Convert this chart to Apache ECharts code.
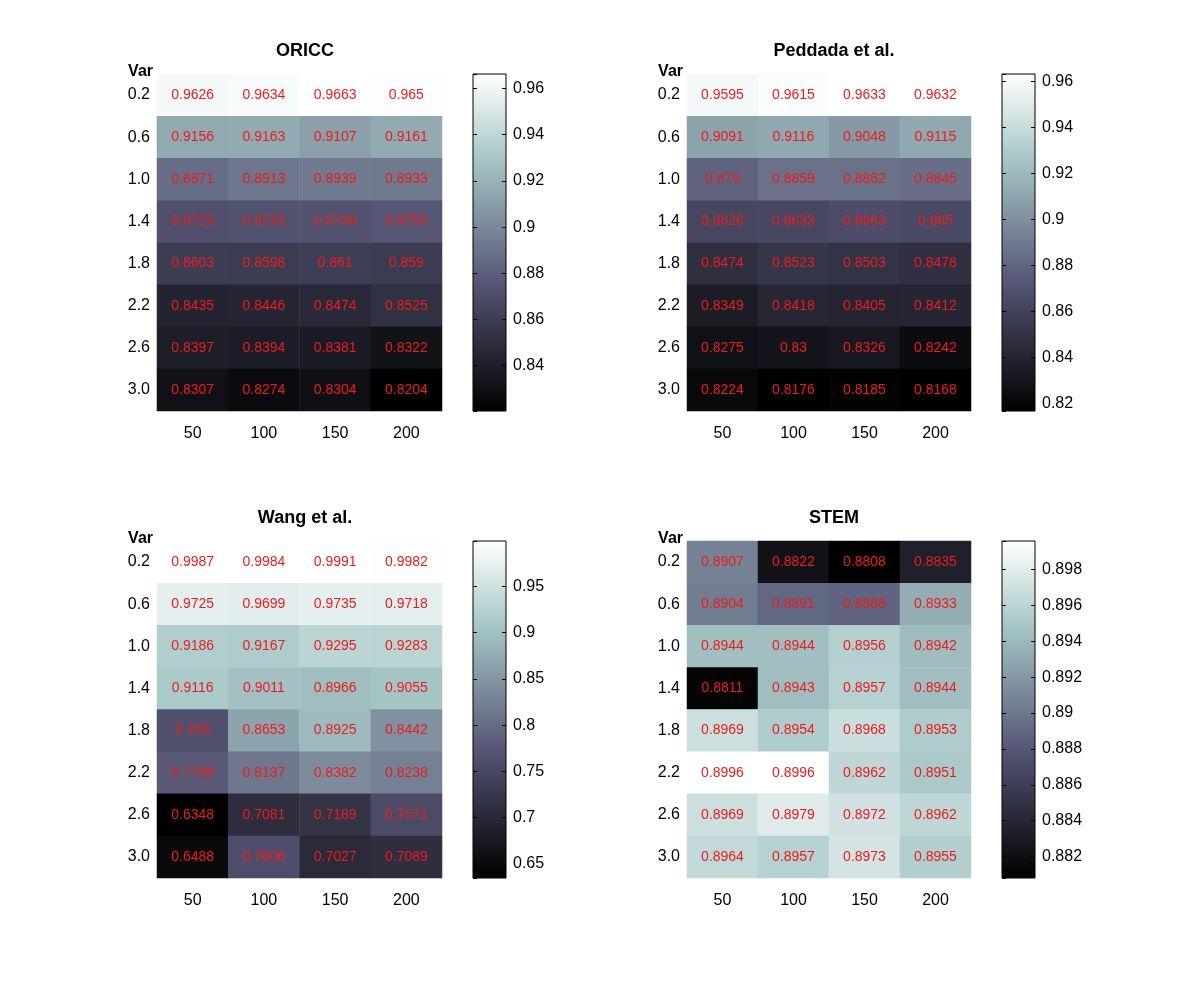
<!DOCTYPE html>
<html>
<head>
<meta charset="utf-8">
<script src="https://cdn.jsdelivr.net/npm/echarts@6/dist/echarts.min.js"></script>
<style>
html,body{margin:0;padding:0;background:#fff;}
#chart{width:1200px;height:988px;}
</style>
</head>
<body>
<div id="chart"></div>
<script>
// ---- data ----
const sampleSizes = ['50', '100', '150', '200'];
const variances = ['0.2', '0.6', '1.0', '1.4', '1.8', '2.2', '2.6', '3.0'];
const panelTitles = ['ORICC', 'Peddada et al.', 'Wang et al.', 'STEM'];

const oriccValues = [
  [0.9626, 0.9634, 0.9663, 0.965],
  [0.9156, 0.9163, 0.9107, 0.9161],
  [0.8871, 0.8913, 0.8939, 0.8933],
  [0.8723, 0.8733, 0.8738, 0.8755],
  [0.8603, 0.8598, 0.861, 0.859],
  [0.8435, 0.8446, 0.8474, 0.8525],
  [0.8397, 0.8394, 0.8381, 0.8322],
  [0.8307, 0.8274, 0.8304, 0.8204]
];
const peddadaValues = [
  [0.9595, 0.9615, 0.9633, 0.9632],
  [0.9091, 0.9116, 0.9048, 0.9115],
  [0.879, 0.8859, 0.8862, 0.8845],
  [0.8626, 0.8633, 0.8663, 0.865],
  [0.8474, 0.8523, 0.8503, 0.8478],
  [0.8349, 0.8418, 0.8405, 0.8412],
  [0.8275, 0.83, 0.8326, 0.8242],
  [0.8224, 0.8176, 0.8185, 0.8168]
];
const wangValues = [
  [0.9987, 0.9984, 0.9991, 0.9982],
  [0.9725, 0.9699, 0.9735, 0.9718],
  [0.9186, 0.9167, 0.9295, 0.9283],
  [0.9116, 0.9011, 0.8966, 0.9055],
  [0.766, 0.8653, 0.8925, 0.8442],
  [0.7788, 0.8137, 0.8382, 0.8238],
  [0.6348, 0.7081, 0.7189, 0.7571],
  [0.6488, 0.7608, 0.7027, 0.7089]
];
const stemValues = [
  [0.8907, 0.8822, 0.8808, 0.8835],
  [0.8904, 0.8891, 0.8888, 0.8933],
  [0.8944, 0.8944, 0.8956, 0.8942],
  [0.8811, 0.8943, 0.8957, 0.8944],
  [0.8969, 0.8954, 0.8968, 0.8953],
  [0.8996, 0.8996, 0.8962, 0.8951],
  [0.8969, 0.8979, 0.8972, 0.8962],
  [0.8964, 0.8957, 0.8973, 0.8955]
];
const colorbarSplits = [7, 7, 7, 8];

// ---- styling / layout ----
const FONT = '"Liberation Sans", Arial, Helvetica, sans-serif';
const boneColors = ['#000000', '#1c1c27', '#38384d', '#545474', '#707a8f', '#8ba1ab', '#a7c7c7', '#d3e3e3', '#ffffff'];
const panelValues = [oriccValues, peddadaValues, wangValues, stemValues];
const layouts = [
  {hx: 157, hw: 285, cx: 473, cw: 33, top: 74, tx: 300},
  {hx: 687, hw: 284, cx: 1002, cw: 33, top: 74, tx: 829},
  {hx: 157, hw: 285, cx: 473, cw: 33, top: 541, tx: 300},
  {hx: 687, hw: 284, cx: 1002, cw: 33, top: 541, tx: 829}
];
const H = 337;

const grids = [], xAxes = [], yAxes = [], series = [], visualMaps = [], titles = [];

layouts.forEach((L, i) => {
  grids[i] = {left: L.hx, top: L.top, width: L.hw, height: H};
  grids[4 + i] = {left: L.cx, top: L.top, width: L.cw, height: H};
});

panelValues.forEach((vals, i) => {
  const L = layouts[i];
  const flat = vals.flat();
  const vmin = Math.min(...flat), vmax = Math.max(...flat);
  const data = [];
  vals.forEach((row, yi) => row.forEach((v, xi) => data.push([xi, yi, v])));

  titles.push({
    text: panelTitles[i], left: L.tx, top: L.top - 37, textAlign: 'center',
    textStyle: {fontFamily: FONT, fontSize: 18, fontWeight: 'bold', color: '#000'}
  });

  xAxes[i] = {
    type: 'category', gridIndex: i, data: sampleSizes,
    axisLine: {show: false}, axisTick: {show: false}, splitLine: {show: false},
    axisLabel: {fontFamily: FONT, fontSize: 16, color: '#000', margin: 15}
  };
  yAxes[i] = {
    type: 'category', gridIndex: i, data: variances, inverse: true,
    name: 'Var', nameLocation: 'start', nameGap: -6,
    nameTextStyle: {fontFamily: FONT, fontSize: 16, fontWeight: 'bold', color: '#000', align: 'right', padding: [0, 4, 0, 0]},
    axisLine: {show: false}, axisTick: {show: false}, splitLine: {show: false},
    axisLabel: {fontFamily: FONT, fontSize: 16, color: '#000', margin: 7}
  };
  xAxes[4 + i] = {type: 'value', gridIndex: 4 + i, min: 1, max: 2, show: false};
  const cbAxis = (pos, labels) => ({
    type: 'value', gridIndex: 4 + i, position: pos, min: vmin, max: vmax,
    splitNumber: colorbarSplits[i], z: 10,
    axisLine: {show: false, onZero: false},
    axisTick: {show: true, inside: true, length: 4, lineStyle: {color: '#000', width: 1}},
    splitLine: {show: false},
    axisLabel: {show: labels, showMinLabel: false, showMaxLabel: false,
      fontFamily: FONT, fontSize: 16, color: '#000', margin: 7}
  });
  yAxes[4 + i] = cbAxis('right', true);
  yAxes[8 + i] = cbAxis('left', false);

  visualMaps.push({
    type: 'continuous', show: false, seriesIndex: i, dimension: 2,
    min: vmin, max: vmax, inRange: {color: boneColors}
  });

  series[i] = {
    type: 'heatmap', xAxisIndex: i, yAxisIndex: i, data: data,
    label: {show: true, formatter: p => String(p.value[2]), color: '#ec1c1c',
      fontFamily: FONT, fontSize: 14},
    emphasis: {disabled: true}, silent: true
  };

  const stops = boneColors.slice().reverse().map((c, k) => ({offset: k / (boneColors.length - 1), color: c}));
  series[4 + i] = {
    type: 'custom', xAxisIndex: 4 + i, yAxisIndex: 4 + i, data: [[1]], silent: true, z: 1,
    renderItem: (params, api) => {
      const p0 = api.coord([1, vmax]);
      const p1 = api.coord([2, vmin]);
      return {
        type: 'rect',
        shape: {x: p0[0], y: p0[1], width: p1[0] - p0[0], height: p1[1] - p0[1]},
        style: {fill: new echarts.graphic.LinearGradient(0, 0, 0, 1, stops), stroke: '#000', lineWidth: 1}
      };
    }
  };
});

const chart = echarts.init(document.getElementById('chart'), null, {renderer: 'canvas'});
chart.setOption({
  backgroundColor: '#fff',
  animation: false,
  title: titles,
  grid: grids,
  xAxis: xAxes,
  yAxis: yAxes,
  visualMap: visualMaps,
  series: series
});
</script>
</body>
</html>
